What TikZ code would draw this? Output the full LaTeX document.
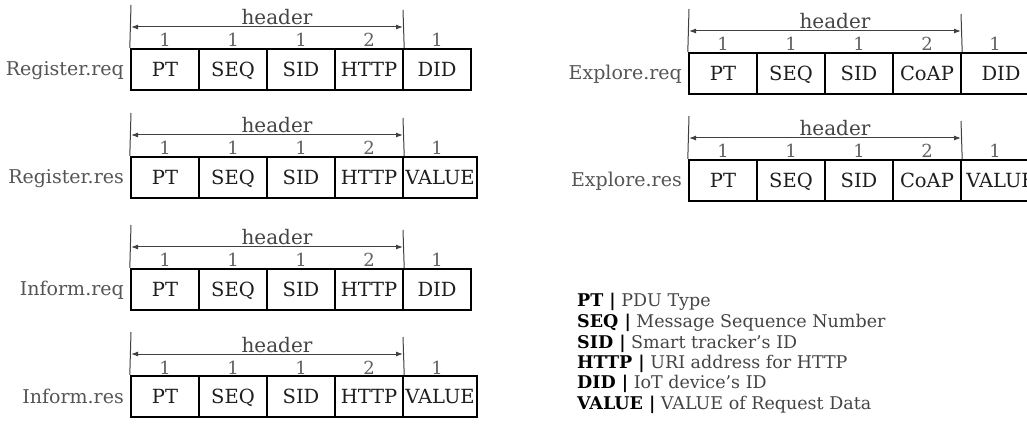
\documentclass[tikz,border=0pt]{standalone}
\usepackage{fontspec}
\setmainfont{DejaVu Serif}
\usetikzlibrary{arrows.meta}
\definecolor{lblgray}{HTML}{555555}
\definecolor{numgray}{HTML}{606060}
\definecolor{txtdark}{HTML}{1E1E1E}
\definecolor{descgray}{HTML}{454545}
\tikzset{
  fld/.style={draw=black, line width=2.4pt, minimum width=68pt, minimum height=41pt,
    inner sep=0pt, text height=14pt, text depth=0pt, text=txtdark,
    font=\fontsize{19.5}{21}\selectfont},
  lbl/.style={anchor=base east, inner sep=0pt, text=lblgray, font=\fontsize{19}{21}\selectfont},
  num/.style={anchor=base, inner sep=0pt, text=numgray, font=\fontsize{18}{20}\selectfont},
  hdr/.style={anchor=base, inner sep=0pt, text=descgray, font=\fontsize{20}{22}\selectfont},
  hline/.style={draw=black!75, line width=1pt},
  harrow/.style={draw=black!75, line width=1pt, {Latex[length=7pt,width=5pt]}-{Latex[length=7pt,width=5pt]}},
  leg/.style={anchor=base west, inner sep=0pt, font=\fontsize{17.5}{20}\selectfont},
}
\newcommand\pkt[7]{%
  \begin{scope}[shift={(#3,#2)}]
    \node[fld] (#1a) at (34,20.5) {PT};
    \node[fld] (#1b) at (102,20.5) {SEQ};
    \node[fld] (#1c) at (170,20.5) {SID};
    \node[fld] (#1d) at (238,20.5) {#5};
    \node[fld, minimum width=#7] (#1e) at (272+#7/2,20.5) {#6};
    \node[lbl] (#1l) at (-7,27) {#4};
    \node[num] (#1na) at (34,-2) {1};
    \node[num] (#1nb) at (102,-2) {1};
    \node[num] (#1nc) at (170,-2) {1};
    \node[num] (#1nd) at (238,-2) {2};
    \node[num] (#1ne) at (306,-2) {1};
    \coordinate (#1tl) at (0,-44);
    \coordinate (#1tr) at (272,-39);
    \coordinate (#1al) at (0,-22);
    \coordinate (#1ar) at (272,-22);
    \draw[hline] (#1tl) -- (#1a.north west);
    \draw[hline] (#1tr) -- (#1d.north east);
    \draw[harrow] (#1al) -- (#1ar);
    \node[hdr] (#1h) at (146,-24) {header};
  \end{scope}}
\begin{document}
\begin{tikzpicture}[x=1pt,y=-1pt]
\useasboundingbox (0,0) rectangle (1027,427);
\fill[white] (0,0) rectangle (1027,427);
\clip (0,0) rectangle (1027,427);
\pkt{r1}{49}{131}{Register.req}{HTTP}{DID}{68}
\pkt{r2}{157}{131}{Register.res}{HTTP}{VALUE}{74}
\pkt{r3}{269}{131}{Inform.req}{HTTP}{DID}{68}
\pkt{r4}{376}{131}{Inform.res}{HTTP}{VALUE}{74}
\pkt{e1}{53}{689}{Explore.req}{CoAP}{DID}{80}
\pkt{e2}{160}{689}{Explore.res}{CoAP}{VALUE}{80}
\node[leg] (g1) at (577,307) {\textbf{PT |} \textcolor{descgray}{PDU Type}};
\node[leg] (g2) at (577,327.5) {\textbf{SEQ |} \textcolor{descgray}{Message Sequence Number}};
\node[leg] (g3) at (577,348) {\textbf{SID |} \textcolor{descgray}{Smart tracker's ID}};
\node[leg] (g4) at (577,368) {\textbf{HTTP |} \textcolor{descgray}{URI address for HTTP}};
\node[leg] (g5) at (577,388.5) {\textbf{DID |} \textcolor{descgray}{IoT device's ID}};
\node[leg] (g6) at (577,409) {\textbf{VALUE |} \textcolor{descgray}{VALUE of Request Data}};
\end{tikzpicture}
\end{document}
